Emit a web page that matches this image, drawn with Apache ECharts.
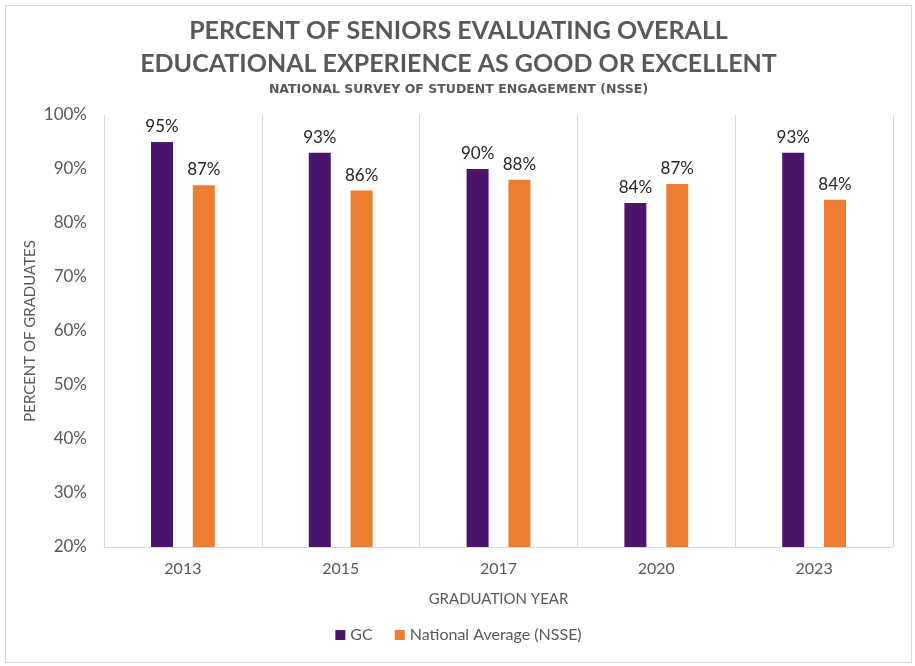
<!DOCTYPE html>
<html>
<head>
    <meta charset="utf-8">
    <title>Percent of Seniors Evaluating Overall Educational Experience</title>
    <script src="https://cdn.jsdelivr.net/npm/echarts@6/dist/echarts.min.js"></script>
    <style>
        html, body { margin: 0; padding: 0; background: #fff; }
        #main {
            position: absolute;
            left: 5px; top: 5px;
            width: 905px; height: 656px;
            border: 1px solid #d9d9d9;
        }
    </style>
</head>
<body>
<div id="main"></div>
<script>
// data
const years = ['2013', '2015', '2017', '2020', '2023'];
const gcValues = [95, 93, 90, 83.7, 93];
const nsseValues = [87, 86, 88, 87.2, 84.3];
const seriesNames = ['GC', 'National Average (NSSE)'];

const FONT = 'Lato';
const GREY = '#595959';

const chart = echarts.init(document.getElementById('main'));

const pctLabel = {
    show: true,
    position: 'top',
    distance: 7,
    fontFamily: FONT,
    fontSize: 17,
    color: '#262626',
    formatter: p => Math.round(p.value) + '%'
};

chart.setOption({
    animation: false,
    title: {
        text: 'PERCENT OF SENIORS EVALUATING OVERALL\nEDUCATIONAL EXPERIENCE AS GOOD OR EXCELLENT',
        subtext: 'NATIONAL SURVEY OF STUDENT ENGAGEMENT (NSSE)',
        left: 'center',
        top: 3,
        itemGap: 3,
        textStyle: {
            fontFamily: FONT, fontSize: 25, fontWeight: 'bold',
            color: GREY, lineHeight: 33
        },
        subtextStyle: {
            fontFamily: 'DejaVu Sans', fontSize: 12.5, fontWeight: 'bold', color: GREY
        }
    },
    legend: {
        bottom: 14,
        left: 'center',
        itemWidth: 10,
        itemHeight: 10,
        itemGap: 22,
        icon: 'rect',
        textStyle: { fontFamily: FONT, fontSize: 16, color: GREY }
    },
    grid: { left: 98, right: 18, top: 109, bottom: 115 },
    xAxis: {
        type: 'category',
        data: years,
        name: 'GRADUATION YEAR',
        nameLocation: 'middle',
        nameGap: 45,
        nameTextStyle: { fontFamily: FONT, fontSize: 15, color: GREY },
        axisLine: { lineStyle: { color: '#d9d9d9' } },
        axisTick: { show: false },
        axisLabel: { fontFamily: FONT, fontSize: 16, color: GREY, margin: 14 },
        splitLine: { show: true, lineStyle: { color: '#d9d9d9' } }
    },
    yAxis: {
        type: 'value',
        min: 20,
        max: 100,
        interval: 10,
        name: 'PERCENT OF GRADUATES',
        nameLocation: 'middle',
        nameGap: 66,
        nameMoveOverlap: false,
        nameTextStyle: { fontFamily: FONT, fontSize: 15, color: GREY },
        axisLine: { show: false },
        axisTick: { show: false },
        splitLine: { show: false },
        axisLabel: {
            fontFamily: FONT, fontSize: 17, color: GREY, margin: 17,
            formatter: '{value}%'
        }
    },
    series: [
        {
            name: seriesNames[0],
            type: 'bar',
            data: gcValues,
            barWidth: 22,
            barGap: '90%',
            itemStyle: { color: '#4b156b' },
            label: pctLabel
        },
        {
            name: seriesNames[1],
            type: 'bar',
            data: nsseValues,
            barWidth: 22,
            itemStyle: { color: '#ed7d31' },
            label: pctLabel
        }
    ]
});
</script>
</body>
</html>
